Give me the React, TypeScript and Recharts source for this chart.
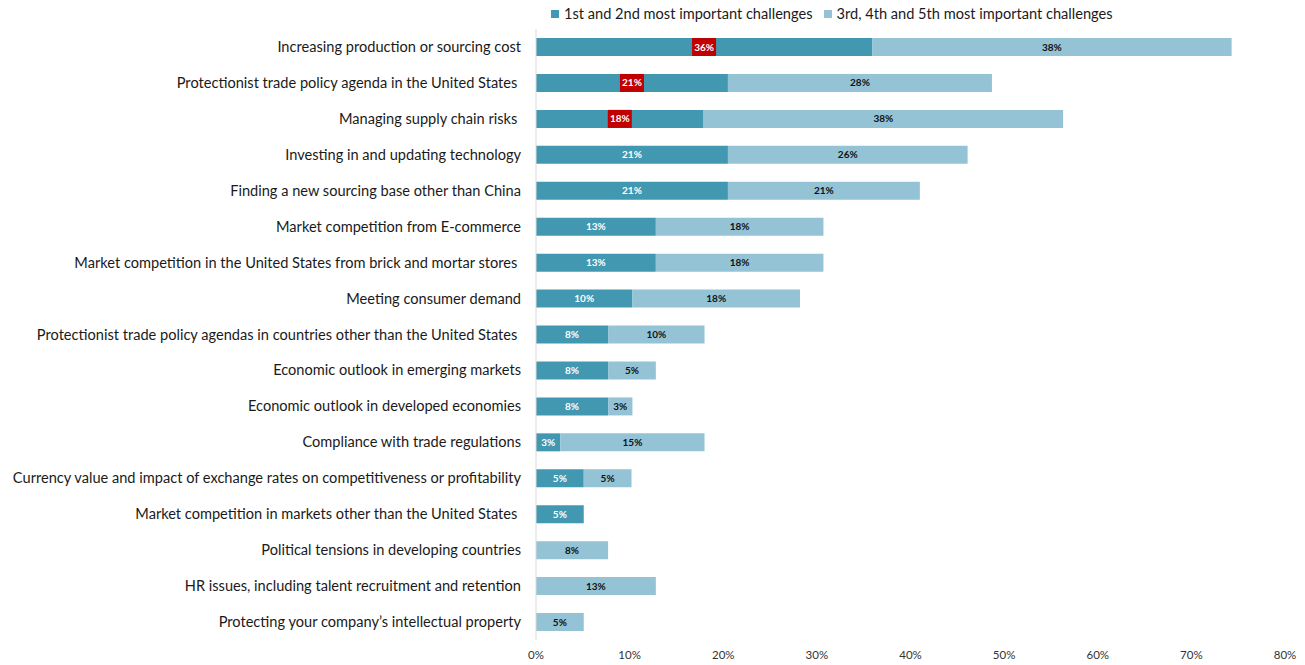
import { BarChart, Bar, XAxis, YAxis, Legend, LabelList } from 'recharts';

const categories = [
  'Increasing production or sourcing cost',
  'Protectionist trade policy agenda in the United States ',
  'Managing supply chain risks ',
  'Investing in and updating technology',
  'Finding a new sourcing base other than China',
  'Market competition from E-commerce',
  'Market competition in the United States from brick and mortar stores ',
  'Meeting consumer demand',
  'Protectionist trade policy agendas in countries other than the United States ',
  'Economic outlook in emerging markets',
  'Economic outlook in developed economies',
  'Compliance with trade regulations',
  'Currency value and impact of exchange rates on competitiveness or profitability',
  'Market competition in markets other than the United States ',
  'Political tensions in developing countries',
  'HR issues, including talent recruitment and retention',
  'Protecting your company\u2019s intellectual property',
];

// 1st and 2nd most important (%)
const topTwo: (number | null)[] = [35.9, 20.5, 17.9, 20.5, 20.5, 12.8, 12.8, 10.3, 7.7, 7.7, 7.7, 2.6, 5.1, 5.1, null, null, null];
// 3rd, 4th and 5th most important (%)
const nextThree: (number | null)[] = [38.4, 28.2, 38.4, 25.6, 20.5, 17.9, 17.9, 17.9, 10.3, 5.1, 2.6, 15.4, 5.1, null, 7.7, 12.8, 5.1];

const xTicks = [0, 10, 20, 30, 40, 50, 60, 70, 80];
const highlighted = [0, 1, 2];

const DARK = '#4298B0';
const LIGHT = '#93C3D5';
const FONT = 'Lato, "Open Sans", sans-serif';

const data = categories.map((name, i) => ({ name, topTwo: topTwo[i], nextThree: nextThree[i] }));

function CategoryTick({ x, y, payload }: any) {
  return (
    <text x={x} y={y} dy={5} textAnchor="end" fontSize={14.6} fill="#1a1a1a" fontFamily={FONT} style={{ whiteSpace: 'pre' }}>
      {payload.value}
    </text>
  );
}

function DarkLabel(props: any) {
  const { x, y, width, height, value, index } = props;
  if (value == null) return null;
  const cx = x + width / 2;
  const cy = y + height / 2;
  return (
    <g>
      {highlighted.includes(index) && <rect x={cx - 12} y={y} width={24} height={height} fill="#C00000" />}
      <text x={cx} y={cy} dy={3.5} textAnchor="middle" fontSize={10} fontWeight={700} fill="#fff" fontFamily={FONT}>
        {Math.round(value)}%
      </text>
    </g>
  );
}

function LightLabel(props: any) {
  const { x, y, width, height, value } = props;
  if (value == null) return null;
  return (
    <text x={x + width / 2} y={y + height / 2} dy={3.5} textAnchor="middle" fontSize={10} fontWeight={700} fill="#111" fontFamily={FONT}>
      {Math.round(value)}%
    </text>
  );
}

function ChartLegend() {
  const items = [
    { label: '1st and 2nd most important challenges', color: DARK },
    { label: '3rd, 4th and 5th most important challenges', color: LIGHT },
  ];
  return (
    <div style={{ display: 'flex', gap: 11, marginLeft: 551, fontFamily: FONT, fontSize: 14.6, color: '#1a1a1a' }}>
      {items.map(it => (
        <div key={it.label} style={{ display: 'flex', alignItems: 'center' }}>
          <span style={{ width: 8, height: 8, background: it.color, display: 'inline-block', marginRight: 5 }} />
          {it.label}
        </div>
      ))}
    </div>
  );
}

export default function App() {
  return (
    <div style={{ position: 'absolute', left: 0, top: 0, background: '#fff' }}>
      <BarChart
        width={1305}
        height={665}
        data={data}
        layout="vertical"
        margin={{ top: 29, right: 20, bottom: 0, left: 0 }}
      >
        <Legend
          layout="horizontal"
          verticalAlign="middle"
          content={<ChartLegend />}
          wrapperStyle={{ top: 5, left: 0, width: 1305 }}
        />
        <XAxis
          type="number"
          domain={[0, 80]}
          ticks={xTicks}
          tickFormatter={(v: number) => `${v}%`}
          axisLine={false}
          tickLine={false}
          tickMargin={5}
          height={25}
          tick={{ fontSize: 11.5, fill: '#333', fontFamily: FONT }}
        />
        <YAxis
          type="category"
          dataKey="name"
          width={536}
          axisLine={{ stroke: '#d9d9d9' }}
          tickLine={false}
          tick={<CategoryTick />}
          tickMargin={9}
          interval={0}
        />
        <Bar dataKey="topTwo" stackId="a" fill={DARK} barSize={18} isAnimationActive={false}>
          <LabelList dataKey="topTwo" content={<DarkLabel />} />
        </Bar>
        <Bar dataKey="nextThree" stackId="a" fill={LIGHT} barSize={18} isAnimationActive={false}>
          <LabelList dataKey="nextThree" content={<LightLabel />} />
        </Bar>
      </BarChart>
    </div>
  );
}
